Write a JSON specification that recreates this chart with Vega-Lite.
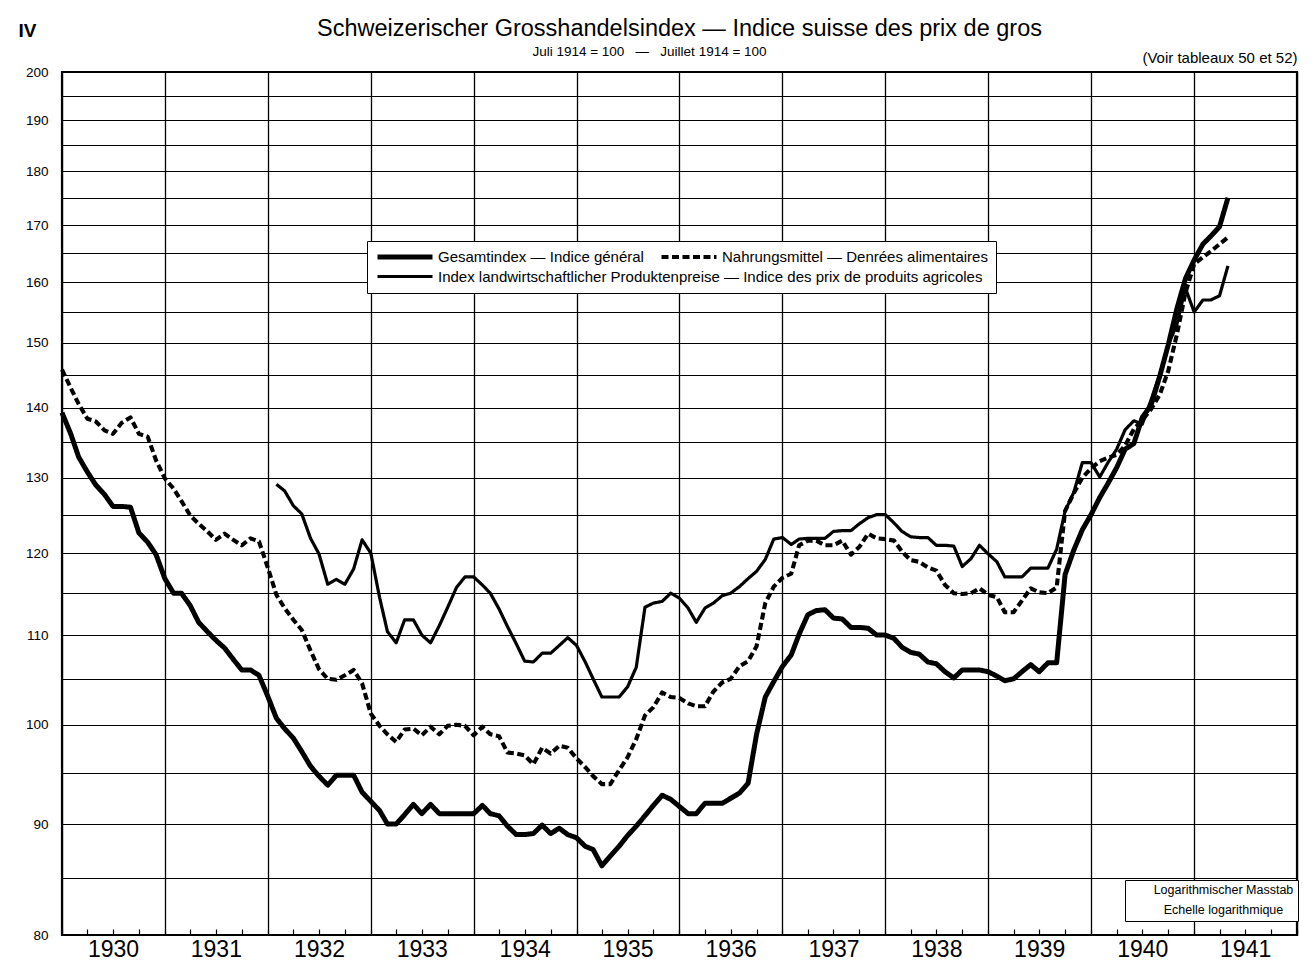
{
  "$schema": "https://vega.github.io/schema/vega-lite/v6.json",
  "width": 1235,
  "height": 863,
  "autosize": {"type": "none"},
  "padding": {"left": 62, "top": 72, "right": 18, "bottom": 30},
  "background": "white",
  "config": {"font": "Liberation Sans", "view": {"stroke": "black", "strokeWidth": 2.2}},
  "title": {
    "text": "Schweizerischer Grosshandelsindex — Indice suisse des prix de gros",
    "subtitle": "Juli 1914 = 100\u00a0\u00a0\u00a0—\u00a0\u00a0\u00a0Juillet 1914 = 100\u00a0\u00a0\u00a0\u00a0\u00a0\u00a0\u00a0\u00a0\u00a0\u00a0\u00a0\u00a0\u00a0\u00a0\u00a0\u00a0\u2060",
    "anchor": "middle",
    "frame": "group",
    "font": "Liberation Sans",
    "fontSize": 23.5,
    "fontWeight": "normal",
    "color": "black",
    "subtitleFont": "Liberation Sans",
    "subtitleFontSize": 13.5,
    "subtitleColor": "black",
    "subtitlePadding": 4,
    "offset": -37
  },
  "layer": [
    {
      "data": {"values": [
        {"d":"1930-01","G":139.3,"N":145.8},{"d":"1930-02","G":136.2,"N":143},{"d":"1930-03","G":132.9,"N":140.6},{"d":"1930-04","G":130.8,"N":138.4},{"d":"1930-05","G":129,"N":138},{"d":"1930-06","G":127.7,"N":136.7},{"d":"1930-07","G":126.1,"N":136.2},{"d":"1930-08","G":126.1,"N":137.8},{"d":"1930-09","G":126,"N":138.6},{"d":"1930-10","G":122.6,"N":136.2},{"d":"1930-11","G":121.4,"N":135.8},{"d":"1930-12","G":119.8,"N":132.4},
        {"d":"1931-01","G":116.8,"N":129.9},{"d":"1931-02","G":115,"N":128.5},{"d":"1931-03","G":115,"N":126.8},{"d":"1931-04","G":113.5,"N":124.9},{"d":"1931-05","G":111.5,"N":123.8},{"d":"1931-06","G":110.4,"N":122.8},{"d":"1931-07","G":109.4,"N":121.7},{"d":"1931-08","G":108.5,"N":122.5},{"d":"1931-09","G":107.2,"N":121.7},{"d":"1931-10","G":106,"N":121},{"d":"1931-11","G":106,"N":121.9},{"d":"1931-12","G":105.4,"N":121.5},
        {"d":"1932-01","G":103.1,"N":118.2},{"d":"1932-02","G":100.7,"N":114.8,"L":129.1},{"d":"1932-03","G":99.6,"N":113.2,"L":128.2},{"d":"1932-04","G":98.6,"N":111.8,"L":126.2},{"d":"1932-05","G":97.2,"N":110.6,"L":125.1},{"d":"1932-06","G":95.7,"N":108.2,"L":121.9},{"d":"1932-07","G":94.7,"N":106.1,"L":119.9},{"d":"1932-08","G":93.8,"N":105,"L":116.1},{"d":"1932-09","G":94.8,"N":104.9,"L":116.7},{"d":"1932-10","G":94.8,"N":105.4,"L":116.1},{"d":"1932-11","G":94.8,"N":106,"L":118},{"d":"1932-12","G":93.1,"N":104.5,"L":121.7},
        {"d":"1933-01","G":92.2,"N":101.2,"L":120},{"d":"1933-02","G":91.3,"N":99.9,"L":114.5},{"d":"1933-03","G":90,"N":99,"L":110.4},{"d":"1933-04","G":90,"N":98.2,"L":109.1},{"d":"1933-05","G":90.9,"N":99.5,"L":111.8},{"d":"1933-06","G":91.9,"N":99.6,"L":111.8},{"d":"1933-07","G":91,"N":98.9,"L":110},{"d":"1933-08","G":91.9,"N":99.8,"L":109.1},{"d":"1933-09","G":91,"N":99,"L":111.1},{"d":"1933-10","G":91,"N":99.9,"L":113.3},{"d":"1933-11","G":91,"N":100,"L":115.7},{"d":"1933-12","G":91,"N":99.9,"L":117},
        {"d":"1934-01","G":91,"N":98.9,"L":117},{"d":"1934-02","G":91.8,"N":99.8,"L":116},{"d":"1934-03","G":91,"N":99,"L":115},{"d":"1934-04","G":90.8,"N":98.8,"L":113.1},{"d":"1934-05","G":89.8,"N":97.1,"L":111},{"d":"1934-06","G":89,"N":97,"L":109},{"d":"1934-07","G":89,"N":96.8,"L":107},{"d":"1934-08","G":89.1,"N":95.9,"L":106.9},{"d":"1934-09","G":89.9,"N":97.6,"L":107.9},{"d":"1934-10","G":89.1,"N":97,"L":107.9},{"d":"1934-11","G":89.6,"N":97.8,"L":108.8},{"d":"1934-12","G":89,"N":97.6,"L":109.7},
        {"d":"1935-01","G":88.7,"N":96.5,"L":108.8},{"d":"1935-02","G":87.9,"N":95.6,"L":106.9},{"d":"1935-03","G":87.6,"N":94.7,"L":105},{"d":"1935-04","G":86.1,"N":93.9,"L":103},{"d":"1935-05","G":87,"N":93.9,"L":103},{"d":"1935-06","G":87.9,"N":95.3,"L":103},{"d":"1935-07","G":88.9,"N":96.6,"L":104.1},{"d":"1935-08","G":89.8,"N":98.5,"L":106.3},{"d":"1935-09","G":90.8,"N":101,"L":113.3},{"d":"1935-10","G":91.8,"N":101.9,"L":113.8},{"d":"1935-11","G":92.8,"N":103.5,"L":114},{"d":"1935-12","G":92.4,"N":103,"L":115},
        {"d":"1936-01","G":91.7,"N":102.9,"L":114.4},{"d":"1936-02","G":91,"N":102.3,"L":113.2},{"d":"1936-03","G":91,"N":102,"L":111.5},{"d":"1936-04","G":92,"N":102,"L":113.2},{"d":"1936-05","G":92,"N":103.6,"L":113.8},{"d":"1936-06","G":92,"N":104.6,"L":114.7},{"d":"1936-07","G":92.5,"N":105,"L":115},{"d":"1936-08","G":93,"N":106.4,"L":115.8},{"d":"1936-09","G":94,"N":107,"L":116.8},{"d":"1936-10","G":99,"N":108.7,"L":117.7},{"d":"1936-11","G":103,"N":113.8,"L":119.2},{"d":"1936-12","G":104.7,"N":115.8,"L":121.8},
        {"d":"1937-01","G":106.4,"N":116.9,"L":122},{"d":"1937-02","G":107.7,"N":117.4,"L":121.1},{"d":"1937-03","G":110.1,"N":121,"L":121.8},{"d":"1937-04","G":112.4,"N":121.6,"L":121.9},{"d":"1937-05","G":112.9,"N":121.6,"L":121.9},{"d":"1937-06","G":113,"N":121,"L":121.9},{"d":"1937-07","G":112,"N":121,"L":122.8},{"d":"1937-08","G":111.9,"N":121.6,"L":122.9},{"d":"1937-09","G":110.9,"N":119.8,"L":122.9},{"d":"1937-10","G":110.9,"N":120.8,"L":123.8},{"d":"1937-11","G":110.8,"N":122.5,"L":124.6},{"d":"1937-12","G":110,"N":121.9,"L":125},
        {"d":"1938-01","G":110,"N":121.8,"L":125},{"d":"1938-02","G":109.6,"N":121.6,"L":123.9},{"d":"1938-03","G":108.6,"N":120.2,"L":122.8},{"d":"1938-04","G":108,"N":119.1,"L":122.1},{"d":"1938-05","G":107.8,"N":118.9,"L":122},{"d":"1938-06","G":106.9,"N":118.2,"L":122},{"d":"1938-07","G":106.7,"N":117.8,"L":121},{"d":"1938-08","G":105.8,"N":116,"L":121},{"d":"1938-09","G":105.1,"N":115,"L":120.9},{"d":"1938-10","G":106,"N":114.9,"L":118.3},{"d":"1938-11","G":106,"N":115,"L":119.3},{"d":"1938-12","G":106,"N":115.6,"L":121},
        {"d":"1939-01","G":105.8,"N":114.8,"L":119.9},{"d":"1939-02","G":105.3,"N":114.5,"L":118.9},{"d":"1939-03","G":104.8,"N":112.7,"L":117},{"d":"1939-04","G":105,"N":112.7,"L":117},{"d":"1939-05","G":105.8,"N":114.1,"L":117},{"d":"1939-06","G":106.6,"N":115.6,"L":118.1},{"d":"1939-07","G":105.8,"N":115.1,"L":118.1},{"d":"1939-08","G":106.8,"N":115,"L":118.1},{"d":"1939-09","G":106.8,"N":115.7,"L":120.5},{"d":"1939-10","G":117.3,"N":125.5,"L":125.5},{"d":"1939-11","G":120.4,"N":127.9,"L":128},{"d":"1939-12","G":123,"N":130,"L":132.1},
        {"d":"1940-01","G":125,"N":131.3,"L":132.1},{"d":"1940-02","G":127.3,"N":132.3,"L":130.1},{"d":"1940-03","G":129.2,"N":132.8,"L":132.1},{"d":"1940-04","G":131.4,"N":133.2,"L":134},{"d":"1940-05","G":134,"N":134.5,"L":136.8},{"d":"1940-06","G":134.8,"N":136.9,"L":138.1},{"d":"1940-07","G":138.6,"N":138.2,"L":137.6},{"d":"1940-08","G":140.4,"N":139.8,"L":141.2},{"d":"1940-09","G":144.8,"N":142,"L":145.1},{"d":"1940-10","G":149.7,"N":145.6,"L":149.7},{"d":"1940-11","G":155.6,"N":151.4,"L":153},{"d":"1940-12","G":160.6,"N":158.2,"L":159},
        {"d":"1941-01","G":163.8,"N":163.1,"L":155},{"d":"1941-02","G":166.6,"N":164.3,"L":157},{"d":"1941-03","G":168,"N":165.3,"L":157},{"d":"1941-04","G":169.7,"N":166.6,"L":157.7},{"d":"1941-05","G":175,"N":167.8,"L":162.8}
      ]},
      "transform": [{"fold": ["G", "N", "L"], "as": ["series", "value"]}],
      "mark": {"type": "line", "color": "black", "strokeJoin": "round", "strokeCap": "butt"},
      "encoding": {
        "x": {
          "field": "d",
          "type": "temporal",
          "scale": {"type": "utc", "nice": false, "domain": [{"year": 1930, "month": 1, "date": 1, "utc": true}, {"year": 1942, "month": 1, "date": 1, "utc": true}]},
          "axis": {
            "tickCount": {"interval": "month", "step": 3},
            "grid": true,
            "gridColor": "black",
            "gridWidth": 1.3,
            "gridOpacity": {"condition": {"test": "utcmonth(datum.value) == 0", "value": 1}, "value": 0},
            "ticks": true,
            "tickColor": "black",
            "tickSize": -6,
            "tickWidth": 1.2,
            "domain": false,
            "labelExpr": "utcmonth(datum.value) == 6 ? utcFormat(datum.value, '%Y') : ''",
            "labelOverlap": false,
            "labelFlush": false,
            "labelFont": "Liberation Sans",
            "labelFontSize": 23,
            "labelColor": "black",
            "labelPadding": 9,
            "title": "(Voir tableaux 50 et 52)",
            "titleX": 1235,
            "titleY": -878,
            "titleAlign": "right",
            "titleBaseline": "middle",
            "titleFont": "Liberation Sans",
            "titleFontSize": 15,
            "titleFontWeight": "normal",
            "titleColor": "black"
          }
        },
        "y": {
          "field": "value",
          "type": "quantitative",
          "scale": {"type": "log", "domain": [80, 200], "nice": false},
          "axis": {
            "values": [80, 85, 90, 95, 100, 105, 110, 115, 120, 125, 130, 135, 140, 145, 150, 155, 160, 165, 170, 175, 180, 185, 190, 195, 200],
            "labelExpr": "datum.value % 10 == 0 ? format(datum.value, 'd') : ''",
            "grid": true,
            "gridColor": "black",
            "gridWidth": 1.2,
            "gridOpacity": 1,
            "ticks": false,
            "domain": false,
            "labelPadding": 14,
            "labelFont": "Liberation Sans",
            "labelFontSize": 13.5,
            "labelColor": "black",
            "labelOverlap": false,
            "title": "IV",
            "titleAngle": 0,
            "titleX": -44,
            "titleY": -42,
            "titleAlign": "left",
            "titleBaseline": "middle",
            "titleFont": "Liberation Sans",
            "titleFontSize": 19,
            "titleFontWeight": "bold",
            "titleColor": "black"
          }
        },
        "strokeDash": {
          "field": "series",
          "type": "nominal",
          "scale": {"domain": ["G", "N", "L"], "range": [[1, 0], [7, 3.5], [1, 0]]},
          "legend": {
            "title": null, "orient": "none", "legendX": 305, "legendY": 169,
            "direction": "horizontal", "columns": 2, "gridAlign": "none",
            "symbolType": "M-5,0H5", "symbolSize": 121, "symbolOffset": 22, "symbolStrokeColor": "black",
            "labelOffset": 25, "labelFont": "Liberation Sans", "labelFontSize": 15, "labelColor": "black", "labelLimit": 800,
            "strokeColor": "black", "fillColor": "white", "padding": 8, "rowPadding": 2, "columnPadding": -330,
            "labelExpr": "datum.label == 'G' ? 'Gesamtindex — Indice général' : datum.label == 'N' ? 'Nahrungsmittel — Denrées alimentaires' : 'Index landwirtschaftlicher Produktenpreise — Indice des prix de produits agricoles'"
          }
        },
        "strokeWidth": {
          "field": "series",
          "type": "nominal",
          "scale": {"domain": ["G", "N", "L"], "range": [5, 3.2, 1.3]},
          "legend": {
            "title": null, "orient": "none", "legendX": 305, "legendY": 169,
            "direction": "horizontal", "columns": 2, "gridAlign": "none",
            "symbolType": "M-5,0H5", "symbolSize": 121, "symbolOffset": 22, "symbolStrokeColor": "black",
            "labelOffset": 25, "labelFont": "Liberation Sans", "labelFontSize": 15, "labelColor": "black", "labelLimit": 800,
            "strokeColor": "black", "fillColor": "white", "padding": 8, "rowPadding": 2, "columnPadding": -330,
            "labelExpr": "datum.label == 'G' ? 'Gesamtindex — Indice général' : datum.label == 'N' ? 'Nahrungsmittel — Denrées alimentaires' : 'Index landwirtschaftlicher Produktenpreise — Indice des prix de produits agricoles'"
          }
        }
      }
    },
    {
      "data": {"values": [{"note": "Logarithmischer Masstab"}, {"note": "Echelle logarithmique"}]},
      "mark": {"type": "point", "opacity": 0},
      "encoding": {
        "shape": {
          "field": "note",
          "type": "nominal",
          "scale": {"domain": ["Logarithmischer Masstab", "Echelle logarithmique"]},
          "legend": {
            "title": null, "orient": "none", "legendX": 1063, "legendY": 808,
            "direction": "vertical", "symbolSize": 0, "symbolOpacity": 0, "labelOffset": 82, "labelAlign": "center",
            "labelExpr": "'   ' + datum.label + '   '",
            "labelFont": "Liberation Sans", "labelFontSize": 12.5, "labelColor": "black",
            "strokeColor": "black", "fillColor": "white", "padding": 4, "rowPadding": 7
          }
        }
      }
    }
  ]
}
